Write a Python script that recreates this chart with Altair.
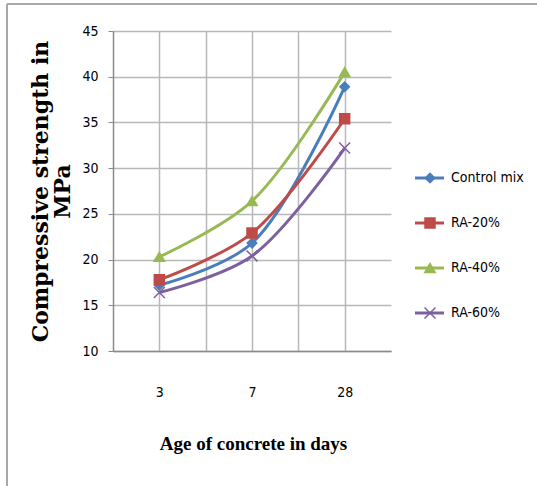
import altair as alt
import pandas as pd

ages = ["3", "7", "28"]
series = ["Control mix", "RA-20%", "RA-40%", "RA-60%"]
control_mix = [17.2, 21.8, 38.9]
ra_20 = [17.8, 22.9, 35.4]
ra_40 = [20.3, 26.4, 40.5]
ra_60 = [16.4, 20.4, 32.2]
y_ticks = [10, 15, 20, 25, 30, 35, 40, 45]

colors = ["#4a7ebb", "#be4b48", "#98b954", "#7d60a0"]
shapes = ["diamond", "square", "triangle-up", "M-1,-1L1,1M-1,1L1,-1"]

LABEL_FONT = "Liberation Sans Narrow, DejaVu Sans Condensed, Arial Narrow, Liberation Sans"

rows = []
for name, vals in zip(series, [control_mix, ra_20, ra_40, ra_60]):
    for i, (a, v) in enumerate(zip(ages, vals)):
        rows.append({"series": name, "age": a, "pos": i + 0.5, "value": v})
df = pd.DataFrame(rows)

label_expr = "".join(
    f"datum.value == {i + 0.5} ? '{a}' : " for i, a in enumerate(ages)
) + "''"

color_scale = alt.Scale(domain=series, range=colors)
shape_scale = alt.Scale(domain=series, range=shapes)
size_scale = alt.Scale(domain=series, range=[90, 120, 130, 100])

x_enc = alt.X(
    "pos:Q",
    scale=alt.Scale(domain=[0, 3], nice=False, zero=False),
    axis=alt.Axis(
        values=[0.5, 1, 1.5, 2, 2.5],
        labelExpr=label_expr,
        ticks=False,
        labelPadding=34,
        labelFont=LABEL_FONT,
        labelFontSize=14,
        labelColor="#000000",
        gridColor="#b8b8b8",
        gridWidth=1.5,
        domainColor="#8a8a8a",
        domainWidth=1.5,
        title="Age of concrete in days",
        titleFont="Liberation Serif",
        titleFontSize=19,
        titleFontWeight="bold",
        titleColor="#000000",
        titleX=140,
        titleY=98,
        titleBaseline="alphabetic",
    ),
)
y_enc = alt.Y(
    "value:Q",
    scale=alt.Scale(domain=[10, 45], nice=False, zero=False),
    axis=alt.Axis(
        values=y_ticks,
        tickSize=5,
        tickColor="#8a8a8a",
        labelPadding=10,
        labelFont=LABEL_FONT,
        labelFontSize=14,
        labelColor="#000000",
        gridColor="#b8b8b8",
        gridWidth=1.5,
        domainColor="#8a8a8a",
        domainWidth=1.5,
        title=["Compressive strength in", "MPa"],
        titleFont="DejaVu Serif, Liberation Serif",
        titleFontSize=22,
        titleFontWeight="bold",
        titleColor="#000000",
        titleLineHeight=22,
        titleAngle=-90,
        titleX=-83,
        titleY=160,
        titleAlign="center",
        titleBaseline="top",
    ),
)

base = alt.Chart(df)
lines = base.mark_line(interpolate="catmull-rom", strokeWidth=3).encode(
    x=x_enc,
    y=y_enc,
    color=alt.Color("series:N", scale=color_scale, legend=None),
    detail="series:N",
)
points = base.mark_point(filled=True, strokeWidth=1.5, opacity=1).encode(
    x="pos:Q",
    y="value:Q",
    color=alt.Color("series:N", scale=color_scale, legend=None),
    stroke=alt.Stroke("series:N", scale=color_scale, legend=None),
    shape=alt.Shape("series:N", scale=shape_scale, legend=None),
    size=alt.Size("series:N", scale=size_scale, legend=None),
)
plot = alt.layer(lines, points)

leg_df = pd.DataFrame({"series": series})
leg_y = alt.Y(
    "series:N",
    scale=alt.Scale(type="point", domain=series, range=[147, 282], padding=0),
    axis=None,
)
leg_base = alt.Chart(leg_df)
leg_rules = leg_base.mark_rule(strokeWidth=3).encode(
    x=alt.value(302), x2=alt.value(331), y=leg_y,
    color=alt.Color("series:N", scale=color_scale, legend=None),
)
leg_points = leg_base.mark_point(filled=True, strokeWidth=1.5, opacity=1).encode(
    x=alt.value(317), y=leg_y,
    color=alt.Color("series:N", scale=color_scale, legend=None),
    stroke=alt.Stroke("series:N", scale=color_scale, legend=None),
    shape=alt.Shape("series:N", scale=shape_scale, legend=None),
    size=alt.Size("series:N", scale=size_scale, legend=None),
)
leg_text = leg_base.mark_text(
    align="left", baseline="middle", font=LABEL_FONT, fontSize=14, color="#000000"
).encode(x=alt.value(338), y=leg_y, text="series:N")
legend = alt.layer(leg_rules, leg_points, leg_text)

frame_df = pd.DataFrame({"k": [0]})
frame_top = alt.Chart(frame_df).mark_rule(color="#a8a8a8", strokeWidth=2).encode(
    x=alt.value(-106), x2=alt.value(430), y=alt.value(-27)
)
frame_left = alt.Chart(frame_df).mark_rule(color="#a8a8a8", strokeWidth=2).encode(
    x=alt.value(-106), y=alt.value(-27), y2=alt.value(460)
)

chart = (
    alt.layer(plot, legend, frame_top, frame_left)
    .resolve_scale(y="independent")
    .properties(
        width=278,
        height=320,
        autosize=alt.AutoSizeParams(type="none"),
        padding={"left": 113, "top": 31, "right": 146, "bottom": 135},
        background="white",
    )
    .configure_view(stroke=None)
)

chart.save("out.html", embed_options={"renderer": "svg", "actions": False})
